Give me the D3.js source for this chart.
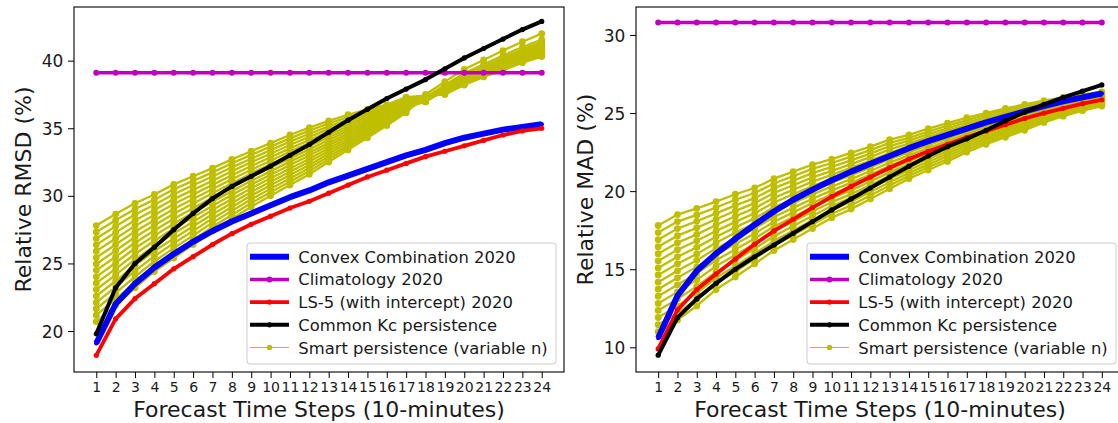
<!DOCTYPE html>
<html><head><meta charset="utf-8">
<script src="https://cdn.jsdelivr.net/npm/d3@7"></script>
<style>
body{margin:0;background:#fff;}
svg text{font-family:"DejaVu Sans",sans-serif;fill:#1a1a1a;}
</style></head><body>
<svg id="chart" width="1118" height="423"></svg>
<script>
// ---------------- DATA ----------------
const steps = [1,2,3,4,5,6,7,8,9,10,11,12,13,14,15,16,17,18,19,20,21,22,23,24];
const yTicksRMSD = [20,25,30,35,40];
const yTicksMAD = [10,15,20,25,30];
const seriesNames = ["Convex Combination 2020","Climatology 2020","LS-5 (with intercept) 2020","Common Kc persistence","Smart persistence (variable n)"];
const xLabel = "Forecast Time Steps (10-minutes)";
const yLabelRMSD = "Relative RMSD (%)";
const yLabelMAD = "Relative MAD (%)";

// Relative RMSD (%)
const convexRMSD = [19.1,22.0,23.5,24.7,25.7,26.6,27.4,28.1,28.7,29.3,29.9,30.4,31.0,31.5,32.0,32.5,33.0,33.4,33.9,34.3,34.6,34.9,35.1,35.3];
const climRMSD   = [39.1,39.1,39.1,39.1,39.1,39.1,39.1,39.1,39.1,39.1,39.1,39.1,39.1,39.1,39.1,39.1,39.1,39.1,39.1,39.1,39.1,39.1,39.1,39.1];
const ls5RMSD    = [18.2,20.9,22.4,23.5,24.6,25.5,26.4,27.2,27.9,28.5,29.1,29.6,30.2,30.8,31.4,31.9,32.4,32.9,33.3,33.7,34.1,34.5,34.8,35.0];
const kcRMSD     = [19.8,23.2,25.0,26.2,27.5,28.7,29.8,30.7,31.45,32.2,33.0,33.8,34.7,35.6,36.4,37.2,37.9,38.6,39.4,40.2,40.9,41.6,42.3,42.9];
// smart persistence: one row per time step, one column per window n
const smartRMSD = [
 [20.7,21.17,21.65,22.12,22.59,23.07,23.54,24.01,24.49,24.96,25.43,25.91,26.38,26.85,27.33,27.8],
 [21.9,22.35,22.8,23.25,23.7,24.15,24.6,25.05,25.5,25.95,26.4,26.85,27.3,27.75,28.2,28.65],
 [23.2,23.62,24.03,24.45,24.87,25.28,25.7,26.12,26.53,26.95,27.37,27.78,28.2,28.62,29.03,29.45],
 [24.4,24.78,25.16,25.54,25.92,26.3,26.68,27.06,27.44,27.82,28.2,28.58,28.96,29.34,29.72,30.1],
 [25.4,25.76,26.13,26.49,26.85,27.22,27.58,27.94,28.31,28.67,29.03,29.4,29.76,30.12,30.49,30.85],
 [26.4,26.74,27.07,27.41,27.75,28.08,28.42,28.76,29.09,29.43,29.77,30.1,30.44,30.78,31.11,31.45],
 [27.4,27.71,28.02,28.33,28.64,28.95,29.26,29.57,29.88,30.19,30.5,30.81,31.12,31.43,31.74,32.05],
 [28.3,28.59,28.89,29.18,29.47,29.77,30.06,30.35,30.65,30.94,31.23,31.53,31.82,32.11,32.41,32.7],
 [29.2,29.47,29.75,30.02,30.29,30.57,30.84,31.11,31.39,31.66,31.93,32.21,32.48,32.75,33.03,33.3],
 [30.0,30.26,30.52,30.78,31.04,31.3,31.56,31.82,32.08,32.34,32.6,32.86,33.12,33.38,33.64,33.9],
 [30.8,31.05,31.29,31.54,31.79,32.03,32.28,32.53,32.77,33.02,33.27,33.51,33.76,34.01,34.25,34.5],
 [31.6,31.83,32.06,32.29,32.52,32.75,32.98,33.21,33.44,33.67,33.9,34.13,34.36,34.59,34.82,35.05],
 [32.5,32.7,32.91,33.11,33.31,33.52,33.72,33.92,34.13,34.33,34.53,34.74,34.94,35.14,35.35,35.55],
 [33.4,33.57,33.75,33.92,34.09,34.27,34.44,34.61,34.79,34.96,35.13,35.31,35.48,35.65,35.83,36.0],
 [34.3,34.44,34.58,34.72,34.86,35.0,35.14,35.28,35.42,35.56,35.7,35.84,35.98,36.12,36.26,36.4],
 [35.2,35.3,35.41,35.51,35.61,35.72,35.82,35.92,36.03,36.13,36.23,36.34,36.44,36.54,36.65,36.75],
 [36.15,36.25,36.35,36.45,36.55,36.65,36.73,36.8,36.88,36.95,37.02,37.08,37.14,37.2,37.25,37.3],
 [37.5,37.3,37.15,37.05,36.98,36.95,36.97,37.0,37.05,37.1,37.16,37.22,37.28,37.33,37.37,37.42],
 [38.45,38.2,38.1,38.03,37.96,37.9,37.85,37.8,37.76,37.71,37.67,37.64,37.6,37.57,37.53,37.5],
 [39.36,39.06,38.94,38.84,38.76,38.69,38.63,38.57,38.51,38.46,38.41,38.37,38.32,38.28,38.24,38.2],
 [40.05,39.73,39.59,39.49,39.4,39.33,39.26,39.2,39.14,39.08,39.03,38.98,38.93,38.89,38.84,38.8],
 [40.75,40.38,40.22,40.1,40.0,39.91,39.83,39.76,39.69,39.63,39.57,39.51,39.45,39.4,39.35,39.3],
 [41.4,41.0,40.83,40.71,40.6,40.51,40.42,40.34,40.27,40.2,40.14,40.07,40.01,39.96,39.9,39.85],
 [42.0,41.56,41.38,41.24,41.12,41.02,40.93,40.84,40.76,40.68,40.61,40.54,40.48,40.42,40.36,40.3]
];

// Relative MAD (%)
const convexMAD = [10.6,13.3,14.9,16.0,16.95,17.85,18.7,19.45,20.1,20.7,21.25,21.75,22.25,22.75,23.2,23.6,24.0,24.4,24.75,25.1,25.45,25.75,26.0,26.25];
const climMAD   = [30.8,30.8,30.8,30.8,30.8,30.8,30.8,30.8,30.8,30.8,30.8,30.8,30.8,30.8,30.8,30.8,30.8,30.8,30.8,30.8,30.8,30.8,30.8,30.8];
const ls5MAD    = [9.9,12.4,13.7,14.7,15.65,16.6,17.45,18.2,18.95,19.65,20.3,20.9,21.5,22.05,22.55,23.0,23.45,23.85,24.25,24.65,25.0,25.3,25.6,25.85];
const kcMAD     = [9.5,11.9,13.1,14.1,15.0,15.8,16.55,17.3,18.05,18.8,19.5,20.2,20.9,21.6,22.25,22.85,23.35,23.9,24.5,25.05,25.55,26.0,26.4,26.8];
const smartMAD = [
 [11.0,11.45,11.91,12.36,12.81,13.27,13.72,14.17,14.63,15.08,15.53,15.99,16.44,16.89,17.35,17.8],
 [11.75,12.2,12.65,13.1,13.55,14.0,14.45,14.9,15.35,15.8,16.25,16.7,17.15,17.6,18.05,18.5],
 [12.65,13.07,13.48,13.9,14.32,14.73,15.15,15.57,15.98,16.4,16.82,17.23,17.65,18.07,18.48,18.9],
 [13.7,14.08,14.45,14.83,15.2,15.58,15.95,16.33,16.7,17.08,17.45,17.83,18.2,18.58,18.95,19.33],
 [14.5,14.85,15.21,15.56,15.91,16.27,16.62,16.97,17.33,17.68,18.03,18.39,18.74,19.09,19.45,19.8],
 [15.35,15.67,16.0,16.32,16.64,16.97,17.29,17.61,17.94,18.26,18.58,18.91,19.23,19.55,19.88,20.2],
 [16.2,16.51,16.81,17.12,17.43,17.73,18.04,18.35,18.65,18.96,19.27,19.57,19.88,20.19,20.49,20.8],
 [16.9,17.19,17.48,17.77,18.06,18.35,18.64,18.93,19.22,19.51,19.8,20.09,20.38,20.67,20.96,21.25],
 [17.6,17.87,18.15,18.42,18.69,18.97,19.24,19.51,19.79,20.06,20.33,20.61,20.88,21.15,21.43,21.7],
 [18.3,18.55,18.8,19.05,19.3,19.55,19.8,20.05,20.3,20.55,20.8,21.05,21.3,21.55,21.8,22.05],
 [18.85,19.09,19.33,19.57,19.81,20.05,20.29,20.53,20.77,21.01,21.25,21.49,21.73,21.97,22.21,22.45],
 [19.5,19.72,19.95,20.17,20.39,20.62,20.84,21.06,21.29,21.51,21.73,21.96,22.18,22.4,22.63,22.85],
 [20.15,20.36,20.57,20.78,20.99,21.2,21.41,21.62,21.83,22.04,22.25,22.46,22.67,22.88,23.09,23.3],
 [20.8,20.99,21.17,21.36,21.55,21.73,21.92,22.11,22.29,22.48,22.67,22.85,23.04,23.23,23.41,23.6],
 [21.35,21.53,21.7,21.88,22.06,22.23,22.41,22.59,22.76,22.94,23.12,23.29,23.47,23.65,23.82,24.0],
 [21.9,22.06,22.23,22.39,22.55,22.72,22.88,23.04,23.21,23.37,23.53,23.7,23.86,24.02,24.19,24.35],
 [22.5,22.65,22.79,22.94,23.09,23.23,23.38,23.53,23.67,23.82,23.97,24.11,24.26,24.41,24.55,24.7],
 [23.0,23.13,23.27,23.4,23.53,23.67,23.8,23.93,24.07,24.2,24.33,24.47,24.6,24.73,24.87,25.0],
 [23.45,23.57,23.7,23.82,23.94,24.07,24.19,24.31,24.44,24.56,24.68,24.81,24.93,25.05,25.18,25.3],
 [23.9,24.01,24.12,24.23,24.34,24.45,24.56,24.67,24.78,24.89,25.0,25.11,25.22,25.33,25.44,25.55],
 [24.4,24.49,24.59,24.68,24.77,24.87,24.96,25.05,25.15,25.24,25.33,25.43,25.52,25.61,25.71,25.8],
 [24.8,24.88,24.96,25.04,25.12,25.2,25.28,25.36,25.44,25.52,25.6,25.68,25.76,25.84,25.92,26.0],
 [25.15,25.22,25.29,25.36,25.43,25.5,25.57,25.64,25.71,25.78,25.85,25.92,25.99,26.06,26.13,26.2],
 [25.45,25.51,25.57,25.63,25.69,25.75,25.81,25.87,25.93,25.99,26.05,26.11,26.17,26.23,26.29,26.35]
];

// ---------------- STYLE ----------------
const colors = {convex:"#0000ff", clim:"#bf00bf", ls5:"#ff0000", kc:"#000000", smart:"#bfbf00"};
const widths = {convex:6, clim:3.5, ls5:3.8, kc:4, smart:1.1};
const radii  = {convex:2.2, clim:3, ls5:2.6, kc:2.6, smart:2.8};
const smartPlotWidth = 2.3, smartPlotRadius = 3.4;
const keys = ["convex","clim","ls5","kc","smart"];

const svg = d3.select("#chart");
const TOP = 7, BOTTOM = 372;

function drawPanel(cfg){
  const g = svg.append("g");
  const x = d3.scaleLinear().domain([-0.15,25.15]).range([cfg.left, cfg.right]);
  const y = d3.scaleLinear().domain(cfg.yDomain).range([BOTTOM, TOP]);
  const line = d3.line().x((d,i)=>x(steps[i])).y(d=>y(d));

  // smart persistence lines (drawn first, underneath)
  const nWin = cfg.smart[0].length;
  const smartLines = d3.range(nWin).map(k => cfg.smart.map(row => row[k]));
  const sg = g.append("g");
  smartLines.forEach(vals=>{
    sg.append("path").attr("d", line(vals)).attr("fill","none")
      .attr("stroke",colors.smart).attr("stroke-width",smartPlotWidth);
  });
  smartLines.forEach(vals=>{
    sg.selectAll(null).data(vals).enter().append("circle")
      .attr("cx",(d,i)=>x(steps[i])).attr("cy",d=>y(d)).attr("r",smartPlotRadius)
      .attr("fill",colors.smart);
  });

  const series = [["convex",cfg.convex],["clim",cfg.clim],["ls5",cfg.ls5],["kc",cfg.kc]];
  series.forEach(([k,vals])=>{
    g.append("path").attr("d", line(vals)).attr("fill","none")
      .attr("stroke",colors[k]).attr("stroke-width",widths[k])
      .attr("stroke-linejoin","round").attr("stroke-linecap","butt");
    g.selectAll(null).data(vals).enter().append("circle")
      .attr("cx",(d,i)=>x(steps[i])).attr("cy",d=>y(d)).attr("r",radii[k])
      .attr("fill",colors[k]);
  });

  // axes
  const xa = g.append("g").attr("transform",`translate(0,${BOTTOM})`)
    .call(d3.axisBottom(x).tickValues(steps).tickSize(6).tickSizeOuter(0).tickPadding(4.5));
  xa.select(".domain").remove();
  xa.selectAll("text").attr("font-size",14).attr("font-family","DejaVu Sans").attr("fill","#1a1a1a");
  xa.selectAll("line").attr("stroke","#000");

  const ya = g.append("g").attr("transform",`translate(${cfg.left},0)`)
    .call(d3.axisLeft(y).tickValues(cfg.yTicks).tickSize(6).tickSizeOuter(0).tickPadding(4.7));
  ya.select(".domain").remove();
  ya.selectAll("text").attr("font-size",17).attr("font-family","DejaVu Sans").attr("fill","#1a1a1a").attr("dy","0.36em");
  ya.selectAll("line").attr("stroke","#000");

  // frame
  g.append("rect").attr("x",cfg.left).attr("y",TOP).attr("width",cfg.right-cfg.left).attr("height",BOTTOM-TOP)
    .attr("fill","none").attr("stroke","#000").attr("stroke-width",1.1);

  // labels
  g.append("text").attr("x",(cfg.left+cfg.right)/2).attr("y",417).attr("text-anchor","middle")
    .attr("font-size",22).text(xLabel);
  g.append("text").attr("transform",`translate(${cfg.ylabX},${(TOP+BOTTOM)/2}) rotate(-90)`)
    .attr("text-anchor","middle").attr("font-size",22).text(cfg.ylabel);

  // legend
  const lg = g.append("g").attr("transform",`translate(${cfg.legX},243)`);
  lg.append("rect").attr("x",0).attr("y",0).attr("width",309).attr("height",121).attr("rx",3)
    .attr("fill","#fff").attr("fill-opacity",0.8).attr("stroke","#cccccc").attr("stroke-width",1);
  keys.forEach((k,i)=>{
    const by = 19.7 + i*22.7;
    const cy = by - 6;
    lg.append("line").attr("x1",3).attr("x2",42).attr("y1",cy).attr("y2",cy)
      .attr("stroke",colors[k]).attr("stroke-width",widths[k]);
    lg.append("circle").attr("cx",22.5).attr("cy",cy).attr("r",radii[k]).attr("fill",colors[k]);
    lg.append("text").attr("x",51.3).attr("y",by).attr("font-size",16.4).text(seriesNames[i]);
  });
}

drawPanel({left:74, right:564, yDomain:[16.97,43.97], yTicks:yTicksRMSD, ylabel:yLabelRMSD, ylabX:31,
  convex:convexRMSD, clim:climRMSD, ls5:ls5RMSD, kc:kcRMSD, smart:smartRMSD, legX:247});
drawPanel({left:636, right:1124, yDomain:[8.42,31.79], yTicks:yTicksMAD, ylabel:yLabelMAD, ylabX:593,
  convex:convexMAD, clim:climMAD, ls5:ls5MAD, kc:kcMAD, smart:smartMAD, legX:807});
</script>
</body></html>
